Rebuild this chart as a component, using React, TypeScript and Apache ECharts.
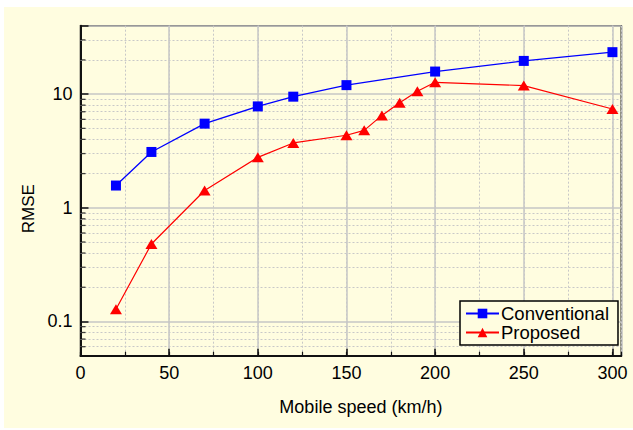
import React, { useEffect, useRef } from "react";
import * as echarts from "echarts";

const convSpeed = [20, 40, 70, 100, 120, 150, 200, 250, 300];
const convRmse = [1.57, 3.1, 5.5, 7.8, 9.5, 12.0, 15.8, 19.6, 23.4];
const propSpeed = [20, 40, 70, 100, 120, 150, 160, 170, 180, 190, 200, 250, 300];
const propRmse = [0.128, 0.48, 1.42, 2.78, 3.72, 4.35, 4.8, 6.5, 8.4, 10.6, 12.7, 11.9, 7.4];
const minorY = [0.06, 0.07, 0.08, 0.09, 0.2, 0.3, 0.4, 0.5, 0.6, 0.7, 0.8, 0.9, 2, 3, 4, 5, 6, 7, 8, 9, 20, 30];
const seriesNames = ["Conventional", "Proposed"];
const xTitle = "Mobile speed (km/h)";
const yTitle = "RMSE";

const BG = "#FFFDE0";
const FONT = "'Liberation Sans', Arial, sans-serif";

export default function App() {
  const ref = useRef<HTMLDivElement>(null);
  useEffect(() => {
    if (!ref.current) return;
    const chart = echarts.init(ref.current, undefined, { renderer: "svg" });
    const isDecade = (v: number) => Math.abs(Math.log10(v) - Math.round(Math.log10(v))) < 1e-6;
    chart.setOption({
      animation: false,
      backgroundColor: BG,
      textStyle: { fontFamily: FONT },
      grid: {
        left: 76.5,
        top: 18.7,
        right: 11.7,
        bottom: 72.3,
        show: true,
        borderColor: "#111",
        borderWidth: 1.5,
        backgroundColor: BG,
      },
      legend: {
        data: seriesNames,
        orient: "vertical",
        left: 456,
        top: 294,
        z: 20,
        backgroundColor: BG,
        borderColor: "#000",
        borderWidth: 1.5,
        borderRadius: 0,
        padding: [3, 9, 3, 5],
        itemGap: 0,
        itemWidth: 33,
        itemHeight: 12,
        lineStyle: { type: "solid", inactiveColor: "#ccc" },
        textStyle: { fontSize: 18.5, color: "#000", fontFamily: FONT, lineHeight: 19, padding: [0, 0, 0, -3] },
      },
      xAxis: [
        {
          type: "value",
          min: 0,
          max: 305,
          interval: 50,
          name: xTitle,
          nameLocation: "middle",
          nameGap: 42,
          nameTextStyle: { fontSize: 18, color: "#000", fontFamily: FONT, padding: [0, 0, 0, 20] },
          axisLine: { show: true, onZero: false, lineStyle: { color: "#111", width: 2 } },
          axisTick: { show: true, inside: true, length: 7, lineStyle: { color: "#111", width: 1.5 } },
          axisLabel: {
            fontSize: 18,
            color: "#000",
            margin: 8,
            fontFamily: FONT,
            showMaxLabel: false,
            formatter: (v: number) => (v % 50 === 0 ? String(v) : ""),
          },
          splitLine: { show: true, lineStyle: { color: "#C6C6C6", width: 1.5 } },
        },
        {
          type: "value",
          min: 0,
          max: 305,
          interval: 25,
          position: "bottom",
          axisLine: { show: false },
          axisLabel: { show: false },
          axisTick: { show: true, inside: true, length: 4, lineStyle: { color: "#111", width: 1.2 } },
          splitLine: { show: true, lineStyle: { color: "#C8C8C8", width: 1, type: [2, 2] } },
        },
      ],
      yAxis: {
        type: "log",
        logBase: 10,
        min: 0.05,
        max: 40,
        name: yTitle,
        nameLocation: "middle",
        nameGap: 40,
        nameTextStyle: { fontSize: 17, color: "#000", fontFamily: FONT, padding: [0, 36, 0, 0] },
        axisLine: { show: true, lineStyle: { color: "#111", width: 2 } },
        axisTick: { show: true, inside: true, length: 8, lineStyle: { color: "#111", width: 1.5 } },
        axisLabel: {
          fontSize: 18,
          color: "#000",
          margin: 8,
          fontFamily: FONT,
          formatter: (v: number) => (isDecade(v) ? String(Number(v.toPrecision(3))) : ""),
        },
        splitLine: { show: true, lineStyle: { color: "#C6C6C6", width: 1.5 } },
      },
      series: [
        {
          type: "scatter",
          name: "minor",
          xAxisIndex: 0,
          data: minorY.map((v) => [0, v]),
          symbol: "rect",
          symbolSize: [5, 1.3],
          symbolOffset: [2.5, 0],
          itemStyle: { color: "#111" },
          silent: true,
          clip: false,
          z: 1,
          zlevel: 0,
          markLine: {
            silent: true,
            symbol: ["none", "none"],
            label: { show: false },
            z: 1,
            lineStyle: { color: "#C8C8C8", width: 1, type: [2, 2] },
            data: minorY.map((v) => ({ yAxis: v })),
          },
        },
        {
          type: "line",
          name: seriesNames[0],
          data: convSpeed.map((s, i) => [s, convRmse[i]]),
          symbol: "rect",
          symbolSize: 10,
          lineStyle: { color: "#0000FF", width: 1.3, type: "solid" },
          itemStyle: { color: "#0000FF" },
          z: 3,
        },
        {
          type: "line",
          name: seriesNames[1],
          data: propSpeed.map((s, i) => [s, propRmse[i]]),
          symbol: "triangle",
          symbolSize: [12, 10],
          lineStyle: { color: "#FF0000", width: 1.2, type: "solid" },
          itemStyle: { color: "#FF0000" },
          z: 3,
        },
      ],
    });
    return () => chart.dispose();
  }, []);
  return (
    <div
      ref={ref}
      style={{ position: "absolute", left: 4, top: 7, width: 629, height: 421 }}
    />
  );
}
